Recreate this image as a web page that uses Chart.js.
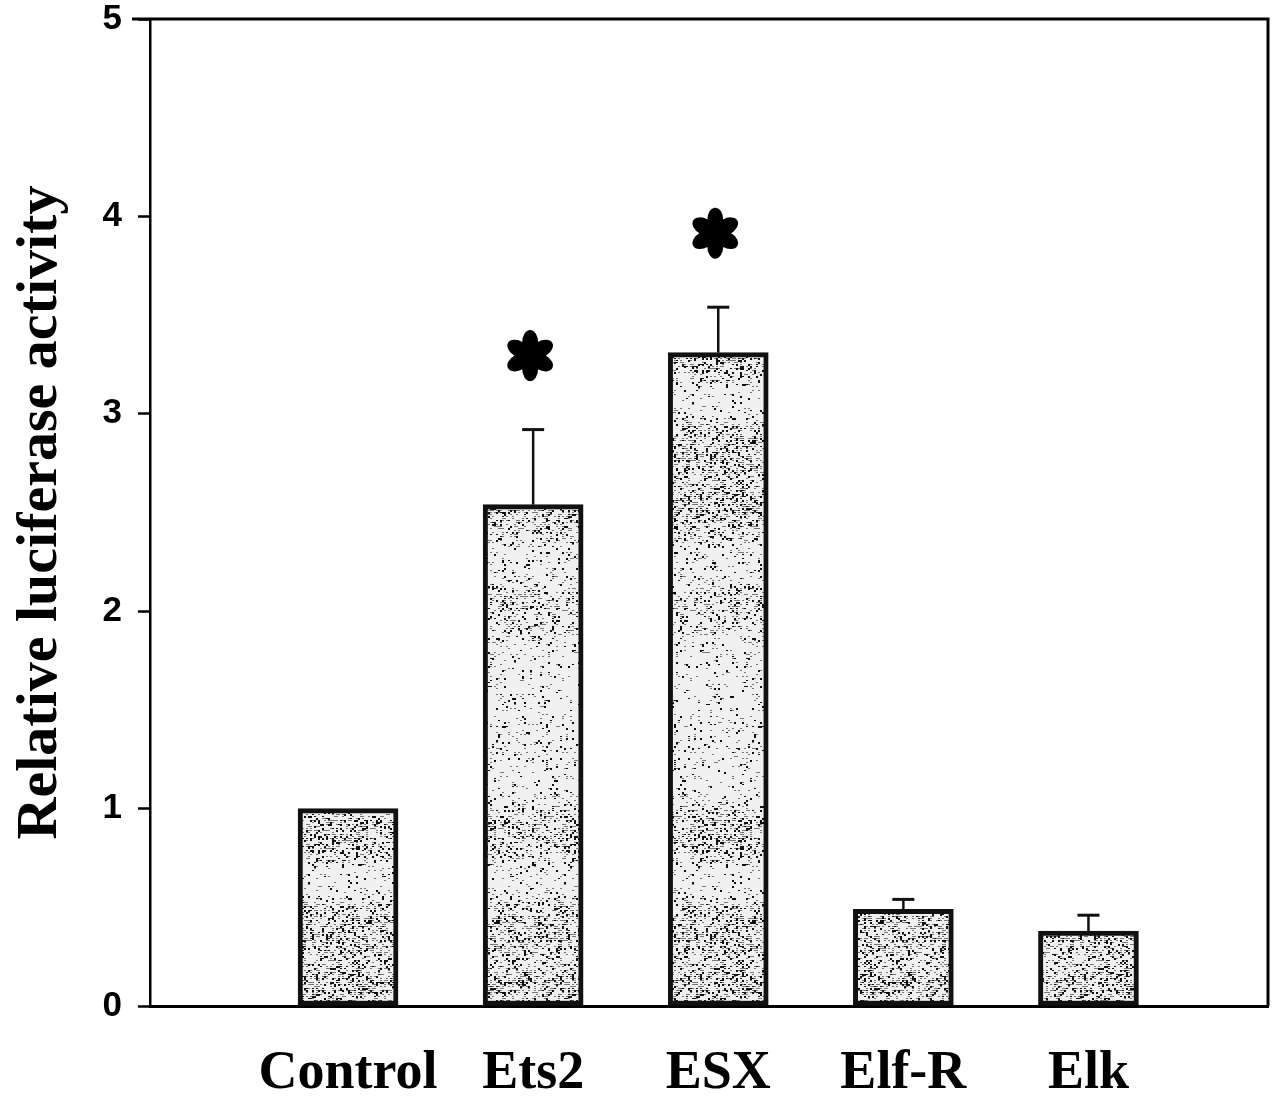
<!DOCTYPE html>
<html>
<head>
<meta charset="utf-8">
<script src="https://cdn.jsdelivr.net/npm/chart.js@4/dist/chart.umd.min.js"></script>
<style>
  html, body { margin: 0; padding: 0; background: #fff; }
  #wrap { width: 1282px; height: 1108px; position: relative; }
</style>
</head>
<body>
<div id="wrap"><canvas id="luc"></canvas></div>
<script>
// categories and values
const categories = ['Control', 'Ets2', 'ESX', 'Elf-R', 'Elk'];
const activity = [1.00, 2.54, 3.31, 0.49, 0.38];
const errorUp = [0, 0.38, 0.23, 0.05, 0.08];
const significant = [false, true, true, false, false];
const yTicks = [0, 1, 2, 3, 4, 5];

// stippled grey fill like the scanned bars (deterministic hash, texture only)
function makeStipple() {
    const c = document.createElement('canvas');
    c.width = 128;
    c.height = 480;
    const g = c.getContext('2d');
    g.fillStyle = '#f0f0f0';
    g.fillRect(0, 0, c.width, c.height);
    const hash = (x, y) => {
        const s = Math.sin(x * 12.9898 + y * 78.233) * 43758.5453;
        return s - Math.floor(s);
    };
    for (let y = 0; y < c.height; y += 2) {
        const band = (0.5 + 0.5 * Math.sin(y / 17)) * (0.5 + 0.5 * Math.sin(y / 61 + 1));
        const density = 0.10 + 0.38 * band;
        for (let x = 0; x < c.width; x += 2) {
            const h = hash(x, y);
            if (h < density) {
                g.fillStyle = h < density * 0.45 ? '#111' : '#777';
                g.fillRect(x, y, 2, h < density * 0.3 ? 2 : 1);
            }
        }
    }
    return g.createPattern(c, 'repeat');
}

// upper error bars with caps
const errorBars = {
    id: 'errorBars',
    afterDatasetsDraw(chart) {
        const ctx = chart.ctx;
        const yScale = chart.scales.y;
        const meta = chart.getDatasetMeta(0);
        ctx.save();
        ctx.strokeStyle = '#111';
        meta.data.forEach((bar, i) => {
            if (!errorUp[i]) return;
            const yTop = yScale.getPixelForValue(activity[i] + errorUp[i]);
            ctx.lineWidth = 2.5;
            ctx.beginPath();
            ctx.moveTo(bar.x, bar.y);
            ctx.lineTo(bar.x, yTop);
            ctx.stroke();
            ctx.lineWidth = 3;
            ctx.beginPath();
            ctx.moveTo(bar.x - 11, yTop);
            ctx.lineTo(bar.x + 11, yTop);
            ctx.stroke();
        });
        ctx.restore();
    }
};

// six-petal asterisks over significant bars
const asterisks = {
    id: 'asterisks',
    afterDatasetsDraw(chart) {
        const ctx = chart.ctx;
        const yScale = chart.scales.y;
        const meta = chart.getDatasetMeta(0);
        ctx.save();
        ctx.fillStyle = '#000';
        meta.data.forEach((bar, i) => {
            if (!significant[i]) return;
            const cx = bar.x - 3;
            const cy = yScale.getPixelForValue(activity[i] + errorUp[i]) - 74;
            for (let k = 0; k < 6; k++) {
                const a = Math.PI / 2 + k * Math.PI / 3;
                ctx.beginPath();
                ctx.ellipse(cx + Math.cos(a) * 13, cy - Math.sin(a) * 13, 12.5, 8, -a, 0, Math.PI * 2);
                ctx.fill();
            }
            ctx.beginPath();
            ctx.arc(cx, cy, 7, 0, Math.PI * 2);
            ctx.fill();
        });
        ctx.restore();
    }
};

// top and right sides of the box
const frame = {
    id: 'frame',
    afterDraw(chart) {
        const { left, right, top, bottom } = chart.chartArea;
        const ctx = chart.ctx;
        ctx.save();
        ctx.strokeStyle = '#000';
        ctx.lineWidth = 3;
        ctx.beginPath();
        ctx.moveTo(left - 18, top);
        ctx.lineTo(right, top);
        ctx.lineTo(right, bottom);
        ctx.stroke();
        ctx.restore();
    }
};

const ctx = document.getElementById('luc').getContext('2d');
new Chart(ctx, {
    type: 'bar',
    data: {
        datasets: [{
            data: activity.map((v, i) => ({ x: i + 1, y: v })),
            backgroundColor: makeStipple(),
            borderColor: '#111',
            borderWidth: 5,
            borderSkipped: false,
            barThickness: 100
        }]
    },
    options: {
        responsive: true,
        maintainAspectRatio: false,
        animation: false,
        layout: { padding: { top: 19, right: 14, left: 0, bottom: 0 } },
        plugins: {
            legend: { display: false },
            tooltip: { enabled: false }
        },
        scales: {
            x: {
                type: 'linear',
                offset: false,
                min: -0.07,
                max: 5.97,
                afterBuildTicks: scale => {
                    scale.ticks = categories.map((c, i) => ({ value: i + 1 }));
                },
                afterFit: scale => {
                    scale.height = 102;
                    scale.paddingLeft = 0;
                    scale.paddingRight = 0;
                },
                grid: { display: false, drawTicks: false },
                border: { display: true, color: '#000', width: 3 },
                ticks: {
                    padding: 36,
                    color: '#000',
                    autoSkip: false,
                    maxRotation: 0,
                    font: { family: '"Liberation Serif", "Times New Roman", serif', size: 54, weight: 'bold' },
                    callback: value => categories[value - 1] || ''
                }
            },
            y: {
                min: 0,
                max: 5,
                afterBuildTicks: scale => {
                    scale.ticks = yTicks.map(v => ({ value: v }));
                },
                afterFit: scale => {
                    scale.width = 150;
                    scale.paddingTop = 0;
                    scale.paddingBottom = 0;
                },
                grid: { drawOnChartArea: false, tickLength: 12, color: '#000', tickWidth: 2.5 },
                border: { display: true, color: '#000', width: 2.5 },
                ticks: {
                    padding: 16,
                    color: '#000',
                    font: { family: '"Liberation Sans", Arial, sans-serif', size: 35, weight: 'bold' }
                },
                title: {
                    display: true,
                    text: 'Relative luciferase activity',
                    color: '#000',
                    padding: { top: 12, bottom: 0 },
                    font: { family: '"Liberation Serif", "Times New Roman", serif', size: 58, weight: 'bold', lineHeight: 1 }
                }
            }
        }
    },
    plugins: [errorBars, asterisks, frame]
});
</script>
</body>
</html>
